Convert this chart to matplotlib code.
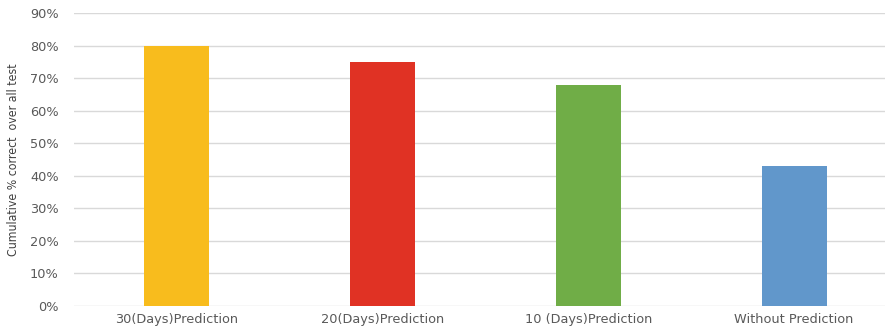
import matplotlib.pyplot as plt
from matplotlib.ticker import PercentFormatter

categories = ['30(Days)Prediction', '20(Days)Prediction', '10 (Days)Prediction', 'Without Prediction']
values = [0.80, 0.75, 0.68, 0.43]
colors = ['#F8BC1D', '#E03224', '#70AD47', '#6197CB']

fig = plt.figure(figsize=(8.85, 3.33), dpi=100)
ax = fig.add_axes([74 / 885, 27 / 333, 823 / 885, 293 / 333])

x = range(len(categories))
ax.bar(x, values, width=0.316, color=colors, zorder=3)

ax.set_xlim(-0.5, len(categories) - 0.5)
ax.set_ylim(0, 0.9)
ax.set_yticks([i / 10 for i in range(10)])
ax.yaxis.set_major_formatter(PercentFormatter(1.0, decimals=0))
ax.set_xticks(list(x))
ax.set_xticklabels(categories)
ax.grid(axis='y', color='#D9D9D9', linewidth=1, zorder=0)
for s in ax.spines.values():
    s.set_visible(False)
ax.tick_params(length=0, colors='#595959', labelsize=9.3)
ax.tick_params(axis='y', pad=11)
ax.tick_params(axis='x', pad=5)

ax.set_ylabel('Cumulative % correct  over all test', color='#404040', fontsize=8.8,
              fontstretch='condensed')
ax.yaxis.set_label_coords(-54 / 823, 0.5)

fig.savefig('out.png', dpi=100)
